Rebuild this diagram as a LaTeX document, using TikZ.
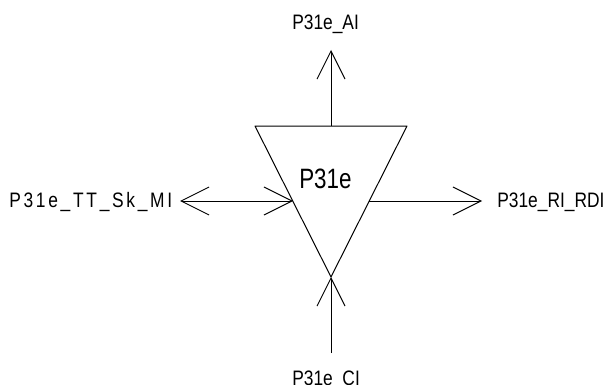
\documentclass[tikz,border=0pt]{standalone}
\usepackage{fontspec}
\setmainfont{Liberation Sans}
\newfontfamily\labelfont[FakeStretch=0.83]{Liberation Sans}
\newfontfamily\wideLabelfont[FakeStretch=0.83,LetterSpace=13]{Liberation Sans}
\newfontfamily\corefont[FakeStretch=0.8]{Liberation Sans}
\usetikzlibrary{arrows.meta}
\tikzset{
  barb/.style={line width=0.75pt, -{Straight Barb[length=21pt,width=21pt]}},
  portlabel/.style={inner sep=0pt, anchor=base west, font=\labelfont\fontsize{15.7}{18}\selectfont},
}
\begin{document}
\begin{tikzpicture} [x=0.75pt, y=-0.75pt]
\useasboundingbox (0,0) rectangle (607,385);
% triangle corners and ports
\coordinate (tl) at (255,126);
\coordinate (tr) at (407,126);
\coordinate (apex) at (331,277);
\coordinate (top) at (331,126);
\coordinate (west) at (293,201);
\coordinate (east) at (369,201);
\coordinate (aiend) at (331,50);
\coordinate (ciend) at (331,353);
\coordinate (miend) at (180,201);
\coordinate (riend) at (482,201);
\draw[line width=0.75pt, line join=round] (tl) -- (tr) -- (apex) -- cycle;
\node[inner sep=0pt, anchor=base west] (core) at (299,188) {\corefont\fontsize{21}{24}\selectfont P31e};
\draw[barb] (top) -- (aiend);
\draw[barb] (ciend) -- (apex);
\draw[barb] (east) -- (riend);
\draw[barb, {Straight Barb[length=21pt,width=21pt]}-{Straight Barb[length=21pt,width=21pt]}] (miend) -- (west);
\node[portlabel] (ai) at (292,30) {P31e\_AI};
\node[portlabel] (ci) at (292,385) {P31e\_CI};
\node[portlabel] (ri) at (497,207) {P31e\_RI\_RDI};
\node[portlabel] (mi) at (9,207) {\wideLabelfont\fontsize{15.7}{18}\selectfont P31e\_TT\_Sk\_MI};
\end{tikzpicture}
\end{document}
